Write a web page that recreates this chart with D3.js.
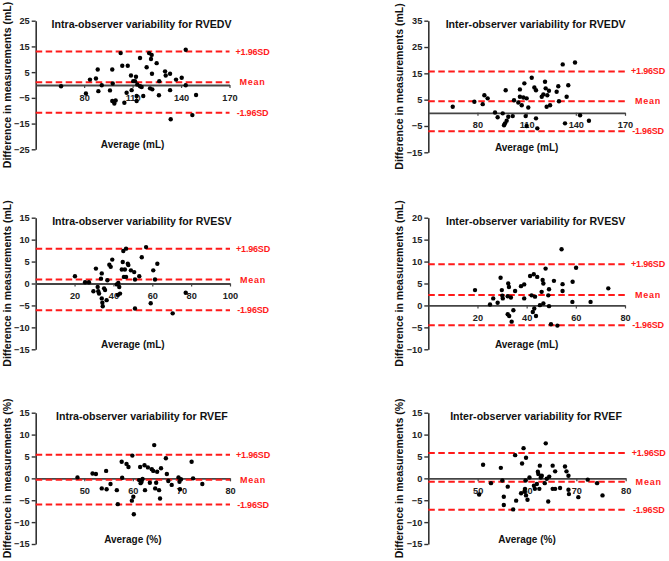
<!DOCTYPE html>
<html>
<head>
<meta charset="utf-8">
<script src="https://cdn.jsdelivr.net/npm/d3@7"></script>
<style>
  html, body { margin: 0; padding: 0; background: #fff; }
  svg { display: block; font-family: "Liberation Sans", Arial, sans-serif; }
</style>
</head>
<body>
<svg id="chart" width="669" height="561"></svg>
<script>
// ---------- data ----------
const titles = [
  "Intra-observer variability for RVEDV", "Inter-observer variability for RVEDV",
  "Intra-observer variability for RVESV", "Inter-observer variability for RVESV",
  "Intra-observer variability for RVEF",  "Inter-observer variability for RVEF"
];
const xLabels = ["Average (mL)", "Average (mL)", "Average (mL)", "Average (mL)", "Average (%)", "Average (%)"];
const yLabels = ["Difference in measurements (mL)", "Difference in measurements (mL)",
                 "Difference in measurements (mL)", "Difference in measurements (mL)",
                 "Difference in measurements (%)",  "Difference in measurements (%)"];
const limitLabels = ["+1.96SD", "Mean", "-1.96SD"];

// x tick values / y tick values
const xTicks1 = [80, 110, 140, 170], yTicks1 = [-25, -15, -5, 5, 15, 25];
const xTicks2 = [80, 110, 140, 170], yTicks2 = [-15, -5, 5, 15, 25, 35];
const xTicks3 = [20, 40, 60, 80, 100], yTicks3 = [-15, -10, -5, 0, 5, 10, 15];
const xTicks4 = [20, 40, 60, 80], yTicks4 = [-10, -5, 0, 5, 10, 15, 20];
const xTicks5 = [50, 60, 70, 80], yTicks5 = [-15, -10, -5, 0, 5, 10, 15];
const xTicks6 = [50, 60, 70, 80], yTicks6 = [-15, -10, -5, 0, 5, 10, 15];

// limits of agreement: [+1.96SD, mean, -1.96SD]
const limits1 = [13.0, 1.1, -10.8];
const limits2 = [15.7, 4.4, -7.0];
const limits3 = [7.95, 0.9, -6.1];
const limits4 = [9.4, 2.35, -4.5];
const limits5 = [5.4, -0.3, -6.0];
const limits6 = [5.8, -0.75, -7.2];

const avg1 = [65.7,81.1,83.6,87.3,88.4,88.8,90.9,96.0,97.4,97.7,97.4,98.7,99.5,102.6,103.6,104.9,107.0,106.3,109.0,109.4,110.4,111.5,112.1,112.5,112.5,112.9,114.6,114.6,115.6,116.6,118.7,120.2,120.8,121.4,121.8,122.0,122.2,124.9,126.5,126.3,130.1,130.5,133.2,133.2,133.6,136.9,140.4,142.9,142.9,147.0,149.3];
const diff1 = [-0.5,-3.3,2.1,2.5,6.0,-2.4,-0.1,-2.1,6.0,0.6,-6.2,-7.2,-6.0,12.4,7.5,-6.9,7.5,-3.0,3.7,-2.0,1.5,1.5,3.2,-4.3,-6.2,0.2,10.5,-0.5,-0.8,-4.3,6.9,12.4,-1.3,10.1,11.7,4.4,-1.7,8.5,1.5,-4.0,5.3,3.7,4.4,-2.0,-13.3,2.1,2.8,13.7,-0.1,-11.7,-3.9];

const avg2 = [64.9,78.1,83.2,84.2,86.2,90.7,92.3,95.4,96.2,96.8,97.2,97.8,98.8,101.5,102.3,104.9,105.9,105.9,107.0,108.0,108.6,109.4,110.0,110.0,111.0,113.1,114.7,115.7,115.7,116.5,119.2,120.2,121.2,121.6,122.2,122.6,123.6,124.3,128.3,129.3,129.7,132.0,133.4,134.4,135.4,139.5,142.6,148.0];
const diff2 = [2.3,4.2,3.3,6.7,5.5,0.15,-1.7,-0.2,-4.7,-4.0,8.6,-3.0,-1.5,-1.25,4.8,3.9,8.9,6.1,2.9,5.8,11.2,-1.25,5.5,-5.0,2.0,13.3,9.6,8.6,-2.1,-5.9,6.1,7.0,11.8,9.3,2.3,6.7,8.4,2.9,8.0,10.1,4.4,18.4,-4.0,6.1,10.5,19.1,-0.9,-3.0];

const avg3 = [20.2,25.4,27.4,29.7,31.0,31.9,32.2,32.6,33.6,34.0,34.0,34.3,34.5,35.2,35.7,36.5,36.9,37.9,38.6,39.4,41.7,42.5,43.0,43.4,44.3,45.1,44.8,45.4,45.9,46.5,46.5,47.4,47.7,49.0,50.7,51.1,51.1,53.3,54.6,56.8,59.2,60.5,61.4,62.6,70.5,77.2,42.3];
const diff3 = [1.66,0.3,0.3,-1.75,3.4,-0.77,-1.75,-2.3,1.1,2.3,-3.4,-4.4,-5.2,-1.1,-1.5,-3.8,0.75,4.3,3.8,5.45,-0.2,0.14,-0.8,-2.3,3.2,7.4,4.9,1.5,3.2,7.95,1.5,4.5,4.2,3.0,2.6,0.9,-5.7,1.66,6.0,8.3,-4.5,3.0,0.9,4.5,-6.8,-2.1,-2.6];

const avg4 = [19.0,25.1,26.4,28.2,29.4,29.9,30.1,30.3,32.3,32.3,32.5,32.8,32.9,33.6,33.9,34.6,35.3,37.7,39.0,39.0,41.4,42.0,42.5,42.9,43.1,43.4,43.8,44.3,45.4,46.1,46.5,46.8,46.8,47.7,48.8,49.1,49.1,49.9,51.1,52.5,54.2,54.6,54.6,58.6,58.7,60.1,66.0,73.2];
const diff4 = [3.5,0.2,1.6,0.6,6.3,3.5,2.2,1.6,2.1,-2.0,5.0,4.2,-2.4,1.8,-3.7,-1.1,3.3,4.4,4.8,1.6,6.7,2.3,-1.5,7.1,-0.7,2.0,-2.4,6.5,0.07,3.1,5.8,5.0,0.46,8.4,2.3,3.7,-0.16,-4.3,5.6,-4.6,12.8,4.85,3.3,0.8,5.4,8.6,0.8,3.9];

const avg5 = [48.6,51.7,52.4,53.6,54.5,54.6,55.4,56.7,56.9,57.7,57.8,58.7,59.1,59.8,59.9,60.1,60.2,61.3,61.5,61.6,61.8,62.0,62.4,62.5,63.1,63.5,63.9,64.2,64.4,64.6,64.8,65.0,65.4,65.6,65.8,66.8,67.0,67.3,68.0,69.4,69.6,69.7,69.9,72.1,72.4,74.3];
const diff5 = [0.22,1.1,1.0,-2.3,1.7,-2.5,-1.3,-2.7,-5.9,3.8,0.14,3.3,2.6,-5.1,5.2,-4.2,-8.2,-0.4,2.6,-1.1,-0.8,-0.16,3.0,-2.7,2.5,-1.0,2.1,1.7,7.6,-2.3,-1.0,1.5,-2.7,-4.6,2.3,4.6,1.0,-0.6,-1.5,0.2,-0.8,-2.5,-0.2,3.8,0,-1.3];

const avg6 = [50.3,51.1,52.7,54.7,55.0,55.3,55.3,56.1,57.2,57.6,57.8,58.8,59.0,59.3,59.5,59.6,59.7,59.8,59.8,60.1,60.5,61.4,61.6,62.0,62.2,62.3,62.5,62.6,62.8,63.0,63.6,63.8,64.0,64.3,64.5,65.2,65.2,65.7,65.7,66.7,67.7,68.0,68.4,68.4,68.5,70.4,72.3,74.2,75.3];
const diff6 = [-3.7,3.1,-1.1,2.4,-0.5,-4.2,-6.1,-1.9,-7.1,5.3,-5.1,-3.4,3.4,6.9,-3.0,-2.4,-0.5,4.7,-3.9,-4.9,0.2,-1.7,-2.4,-1.3,1.5,1.0,-2.4,2.9,0.2,0.6,-1.1,8.0,-0.1,-5.3,0.4,2.9,-2.4,1.6,-2.4,-2.2,2.7,1.6,0.6,-2.6,-3.6,-4.3,-0.3,-1.1,-3.9];

// ---------- layout ----------
const panels = [
  {avg: avg1, diff: diff1, lim: limits1, xt: xTicks1, yt: yTicks1, xd: [50,170], yd: [-25,25], x0: 35.7,  x1: 229.5, yT: 20.7,  yB: 149.3},
  {avg: avg2, diff: diff2, lim: limits2, xt: xTicks2, yt: yTicks2, xd: [50,170], yd: [-15,35], x0: 428.3, x1: 625,   yT: 20.7,  yB: 152.3},
  {avg: avg3, diff: diff3, lim: limits3, xt: xTicks3, yt: yTicks3, xd: [0,100],  yd: [-15,15], x0: 35.7,  x1: 230,   yT: 217.7, yB: 349.3},
  {avg: avg4, diff: diff4, lim: limits4, xt: xTicks4, yt: yTicks4, xd: [0,80],   yd: [-10,20], x0: 428.3, x1: 625,   yT: 217.7, yB: 349.3},
  {avg: avg5, diff: diff5, lim: limits5, xt: xTicks5, yt: yTicks5, xd: [40,80],  yd: [-15,15], x0: 35.7,  x1: 230,   yT: 412.7, yB: 544},
  {avg: avg6, diff: diff6, lim: limits6, xt: xTicks6, yt: yTicks6, xd: [40,80],  yd: [-15,15], x0: 428.3, x1: 625.7, yT: 412.7, yB: 544}
];

const svg = d3.select("#chart");
const axisColor = "#333";
const red = "#ff1a1a";
const fontFam = '"Liberation Sans", Arial, sans-serif';

panels.forEach((p, i) => {
  const x = d3.scaleLinear().domain(p.xd).range([p.x0, p.x1]);
  const y = d3.scaleLinear().domain(p.yd).range([p.yB, p.yT]);
  const g = svg.append("g");

  // y axis
  const yAxis = d3.axisLeft(y).tickValues(p.yt).tickSize(4).tickSizeOuter(0).tickPadding(2);
  const ya = g.append("g").attr("transform", `translate(${p.x0},0)`).call(yAxis);
  ya.select(".domain").attr("stroke", axisColor).attr("stroke-width", 1.6);
  ya.selectAll(".tick line").attr("stroke", axisColor).attr("stroke-width", 1.4);
  ya.selectAll(".tick text").attr("fill", "#222").style("font-size", "9.2px").style("font-weight", "bold")
    .style("font-family", fontFam);

  // x axis at zero
  const xAxis = d3.axisBottom(x).tickValues(p.xt).tickSize(3).tickSizeOuter(0).tickPadding(6);
  const xa = g.append("g").attr("transform", `translate(0,${y(0)})`).call(xAxis);
  xa.select(".domain").attr("stroke", "#444").attr("stroke-width", 1.8);
  xa.selectAll(".tick line").attr("stroke", "#444").attr("stroke-width", 1.2);
  xa.selectAll(".tick text").attr("fill", "#222").style("font-size", "9.2px").style("font-weight", "bold")
    .style("font-family", fontFam);

  // limit lines
  p.lim.forEach((v, k) => {
    g.append("line")
      .attr("x1", p.x0).attr("x2", p.x1)
      .attr("y1", y(v)).attr("y2", y(v))
      .attr("stroke", red).attr("stroke-width", 2)
      .attr("stroke-dasharray", "6.5,3.5");
    g.append("text")
      .attr("x", p.x1 + 23).attr("y", y(v))
      .attr("text-anchor", "middle").attr("dominant-baseline", "central")
      .attr("fill", red).style("font-size", "9px").style("font-weight", "bold")
      .style("letter-spacing", limitLabels[k] === "Mean" ? "0.8px" : "-0.2px")
      .text(limitLabels[k]);
  });

  // dots
  g.selectAll("circle.pt").data(p.avg.map((a, j) => [a, p.diff[j]]))
    .enter().append("circle").attr("class", "pt")
    .attr("cx", d => x(d[0])).attr("cy", d => y(d[1]))
    .attr("r", 2.2).attr("fill", "#000");

  // title
  g.append("text")
    .attr("x", (p.x0 + p.x1) / 2 + 9).attr("y", p.yT + 3.5)
    .attr("text-anchor", "middle").attr("dominant-baseline", "central")
    .attr("fill", "#111").style("font-size", "10.6px").style("font-weight", "bold")
    .text(titles[i]);

  // x label
  g.append("text")
    .attr("x", (p.x0 + p.x1) / 2).attr("y", p.yB - 4.5)
    .attr("text-anchor", "middle").attr("dominant-baseline", "central")
    .attr("fill", "#111").style("font-size", "10px").style("font-weight", "bold")
    .text(xLabels[i]);

  // y label
  const cy = (p.yT + p.yB) / 2, cx = p.x0 - 29;
  g.append("text")
    .attr("transform", `translate(${cx},${cy}) rotate(-90)`)
    .attr("text-anchor", "middle").attr("dominant-baseline", "central")
    .attr("fill", "#111").style("font-size", "10.5px").style("font-weight", "bold")
    .text(yLabels[i]);
});
</script>
</body>
</html>
